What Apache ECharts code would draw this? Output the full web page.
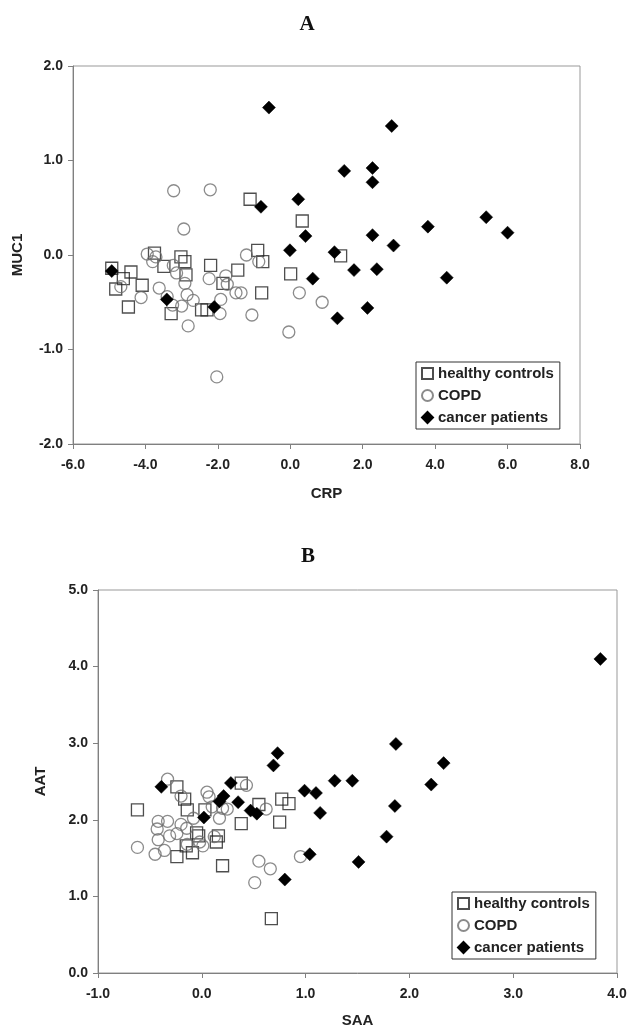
<!DOCTYPE html>
<html>
<head>
<meta charset="utf-8">
<script src="https://cdn.jsdelivr.net/npm/echarts@6/dist/echarts.min.js"></script>
<style>
html,body{margin:0;padding:0;background:#fff;}
#chart{width:630px;height:1030px;}
</style>
</head>
<body>
<div id="chart"></div>
<script>
// Panel A: CRP (x) vs MUC1 (y)
const healthyA = [
  [-4.93,-0.14],[-4.82,-0.36],[-4.61,-0.25],[-4.40,-0.18],[-4.47,-0.55],[-4.09,-0.32],
  [-3.75,0.02],[-3.49,-0.12],[-3.29,-0.62],[-3.02,-0.02],[-2.91,-0.07],[-2.88,-0.21],
  [-2.45,-0.58],[-2.30,-0.58],[-2.20,-0.11],[-1.86,-0.30],[-1.45,-0.16],[-0.90,0.05],
  [-0.76,-0.07],[-0.79,-0.40],[-1.11,0.59],[0.33,0.36],[0.01,-0.20],[1.39,-0.01]
];
const copdA = [
  [-4.68,-0.335],[-4.12,-0.45],[-3.95,0.01],[-3.71,-0.02],[-3.80,-0.07],[-3.62,-0.35],
  [-3.40,-0.44],[-3.23,-0.11],[-3.25,-0.53],[-3.14,-0.19],[-2.91,-0.30],[-2.85,-0.42],
  [-3.00,-0.54],[-2.68,-0.48],[-2.82,-0.75],[-2.24,-0.25],[-1.94,-0.62],[-1.92,-0.47],
  [-1.78,-0.22],[-1.74,-0.31],[-1.50,-0.40],[-1.36,-0.40],[-1.21,0.00],[-0.87,-0.07],
  [-1.06,-0.635],[-2.03,-1.29],[-0.04,-0.815],[0.25,-0.40],[0.88,-0.50],[-3.22,0.68],
  [-2.21,0.69],[-2.94,0.275]
];
const cancerA = [
  [2.80,1.365],[1.49,0.89],[2.27,0.92],[2.27,0.77],[0.22,0.59],[0.42,0.20],[5.41,0.40],
  [3.80,0.30],[6.00,0.236],[2.27,0.21],[2.85,0.10],[1.22,0.03],[1.76,-0.16],[2.39,-0.15],
  [4.32,-0.24],[0.62,-0.25],[2.13,-0.56],[1.30,-0.67],[-0.59,1.56],[-0.81,0.51],
  [-0.01,0.05],[-4.93,-0.17],[-3.41,-0.47],[-2.10,-0.55]
];
// Panel B: SAA (x) vs AAT (y)
const healthyB = [
  [-0.62,2.13],[-0.24,2.43],[-0.165,2.27],[-0.14,2.13],[-0.24,1.52],[-0.15,1.66],
  [-0.09,1.57],[-0.05,1.83],[-0.03,1.79],[0.03,2.13],[0.14,1.71],[0.16,1.79],[0.20,1.40],
  [0.38,1.95],[0.38,2.48],[0.55,2.20],[0.67,0.71],[0.75,1.97],[0.77,2.27],[0.84,2.21]
];
const copdB = [
  [-0.62,1.64],[-0.33,2.53],[-0.20,2.31],[-0.42,1.98],[-0.43,1.88],[-0.42,1.74],
  [-0.45,1.55],[-0.36,1.60],[-0.33,1.98],[-0.31,1.79],[-0.24,1.82],[-0.20,1.94],
  [-0.145,1.89],[-0.14,1.68],[-0.08,2.02],[-0.02,1.71],[0.01,1.66],[0.05,2.36],
  [0.07,2.30],[0.10,2.17],[0.12,1.78],[0.17,2.02],[0.20,2.15],[0.245,2.14],[0.43,2.45],
  [0.62,2.14],[0.55,1.46],[0.66,1.36],[0.51,1.18],[0.95,1.52]
];
const cancerB = [
  [3.84,4.10],[1.87,2.99],[2.33,2.74],[2.21,2.46],[1.28,2.51],[1.45,2.51],[0.99,2.38],
  [1.10,2.35],[1.14,2.09],[1.86,2.18],[1.78,1.78],[1.04,1.55],[1.51,1.45],[0.73,2.87],
  [0.69,2.71],[-0.39,2.43],[0.02,2.03],[0.17,2.24],[0.21,2.31],[0.28,2.48],[0.35,2.23],
  [0.47,2.12],[0.53,2.08],[0.80,1.22]
];
const groupNames = ['healthy controls','COPD','cancer patients'];
const axisA = {xName:'CRP', yName:'MUC1', xMin:-6, xMax:8, xStep:2, yMin:-2, yMax:2, yStep:1};
const axisB = {xName:'SAA', yName:'AAT', xMin:-1, xMax:4, xStep:1, yMin:0, yMax:5, yStep:1};
const panelTitles = ['A','B'];

const FONT = '"Liberation Sans", Arial, sans-serif';
const labelStyle = {color:'#222', fontFamily:FONT, fontWeight:'bold', fontSize:14};
const fmt = v => v.toFixed(1);

function xAxis(ax, gi, nameGap){
  return {
    type:'value', gridIndex:gi, min:ax.xMin, max:ax.xMax, interval:ax.xStep,
    name:ax.xName, nameLocation:'middle', nameGap:nameGap,
    nameTextStyle:{color:'#222', fontFamily:FONT, fontWeight:'bold', fontSize:15},
    axisLine:{show:true, onZero:false, lineStyle:{color:'#808080', width:1}},
    axisTick:{show:true, inside:false, length:5, lineStyle:{color:'#808080'}},
    axisLabel:Object.assign({formatter:fmt, margin:14}, labelStyle),
    splitLine:{show:false}
  };
}
function yAxis(ax, gi, nameGap){
  return {
    type:'value', gridIndex:gi, min:ax.yMin, max:ax.yMax, interval:ax.yStep,
    name:ax.yName, nameLocation:'middle', nameGap:nameGap, nameRotate:90,
    nameTextStyle:{color:'#222', fontFamily:FONT, fontWeight:'bold', fontSize:15},
    axisLine:{show:true, onZero:false, lineStyle:{color:'#808080', width:1}},
    axisTick:{show:true, inside:false, length:5, lineStyle:{color:'#808080'}},
    axisLabel:Object.assign({formatter:fmt, margin:10}, labelStyle),
    splitLine:{show:false}
  };
}
const styles = [
  {symbol:'rect', symbolSize:12, itemStyle:{color:'rgba(255,255,255,0)', borderColor:'#222', borderWidth:1.3}},
  {symbol:'circle', symbolSize:12, itemStyle:{color:'rgba(255,255,255,0)', borderColor:'#6e6e6e', borderWidth:1.3}},
  {symbol:'diamond', symbolSize:13, itemStyle:{color:'#000', borderColor:'#000', borderWidth:0.5, opacity:1}}
];
function mk(name, data, gi, st){
  return Object.assign({type:'scatter', name:name, data:data, xAxisIndex:gi, yAxisIndex:gi,
    silent:true, animation:false, emphasis:{disabled:true}}, JSON.parse(JSON.stringify(st)));
}
const legendBase = {
  orient:'vertical', data:groupNames, itemWidth:11, itemHeight:11, itemGap:7,
  padding:[4,6,4,5], borderColor:'#333', borderWidth:1, backgroundColor:'#fff',
  textStyle:{color:'#222', fontFamily:FONT, fontWeight:'bold', fontSize:15},
  selectedMode:false
};

const chart = echarts.init(document.getElementById('chart'), null, {renderer:'canvas'});
chart.setOption({
  animation:false,
  backgroundColor:'#fff',
  grid:[
    {left:73, top:66, width:507, height:378, show:true, borderColor:'#999', borderWidth:1, backgroundColor:'transparent'},
    {left:98, top:590, width:519, height:383, show:true, borderColor:'#999', borderWidth:1, backgroundColor:'transparent'}
  ],
  xAxis:[xAxis(axisA,0,42), xAxis(axisB,1,40)],
  yAxis:[yAxis(axisA,0,48), yAxis(axisB,1,50)],
  legend:[
    Object.assign({left:416, top:362}, legendBase),
    Object.assign({left:452, top:892}, legendBase)
  ],
  graphic:[
    {type:'text', x:307, y:25, style:{text:panelTitles[0], font:'bold 21px "Liberation Serif", "Times New Roman", serif', fill:'#111', textAlign:'center', textVerticalAlign:'middle'}},
    {type:'text', x:308, y:557, style:{text:panelTitles[1], font:'bold 21px "Liberation Serif", "Times New Roman", serif', fill:'#111', textAlign:'center', textVerticalAlign:'middle'}}
  ],
  series:[
    mk(groupNames[0], healthyA, 0, styles[0]),
    mk(groupNames[1], copdA, 0, styles[1]),
    mk(groupNames[2], cancerA, 0, styles[2]),
    mk(groupNames[0], healthyB, 1, styles[0]),
    mk(groupNames[1], copdB, 1, styles[1]),
    mk(groupNames[2], cancerB, 1, styles[2])
  ]
});
</script>
</body>
</html>
